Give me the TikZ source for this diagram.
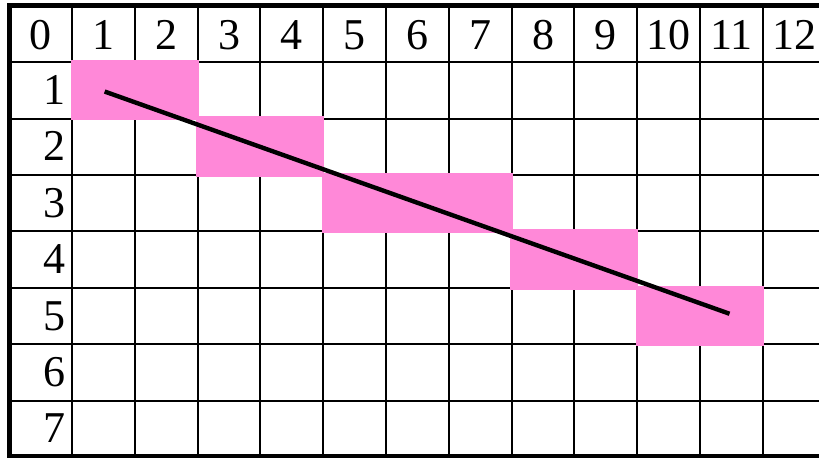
\documentclass[tikz,border=0pt]{standalone}
\usepackage{fontspec}
\setmainfont{Liberation Serif}
\definecolor{cellpink}{RGB}{255,136,216}

\begin{document}
\begin{tikzpicture}[x=31.4pt,y=-28.2pt,
  gridline/.style={line width=1pt},
  frameline/.style={line width=2.6pt,line join=miter},
  hitcell/.style={fill=cellpink},
  hitline/.style={line width=2.2pt},
  numlabel/.style={font=\fontsize{22}{24}\selectfont,inner sep=0pt}]
  \useasboundingbox (-0.1465,-0.103) rectangle (12.895,8.0);
  \clip (-0.1465,-0.103) rectangle (12.895,8.0);
  % grid
  \foreach \x in {1,...,12}
    \draw[gridline] (\x,0)--(\x,8);
  \foreach \y in {1,...,7}
    \draw[gridline] (0,\y)--(13,\y);
  \draw[frameline] (13,0)--(0,0)--(0,8)--(13,8);
  % pink cells
  \foreach \a/\b/\r in {1/3/1,3/5/2,5/8/3,8/10/4,10/12/5}
    \fill[hitcell] (\a-0.02,\r-0.04) rectangle (\b+0.02,\r+1.03);
  % labels
  \node[numlabel,anchor=base] (c0) at (0.5,0.78) {0};
  \foreach \x in {1,...,12}
    \node[numlabel,anchor=base] (c\x) at (\x+0.5,0.78) {\x};
  \foreach \y in {1,...,7}
    \node[numlabel,anchor=base east] (r\y) at (0.905,\y+0.75) {\y};
  % line
  \coordinate (start) at (1.52,1.52);
  \coordinate (end) at (11.47,5.46);
  \draw[hitline] (start)--(end);
\end{tikzpicture}
\end{document}
